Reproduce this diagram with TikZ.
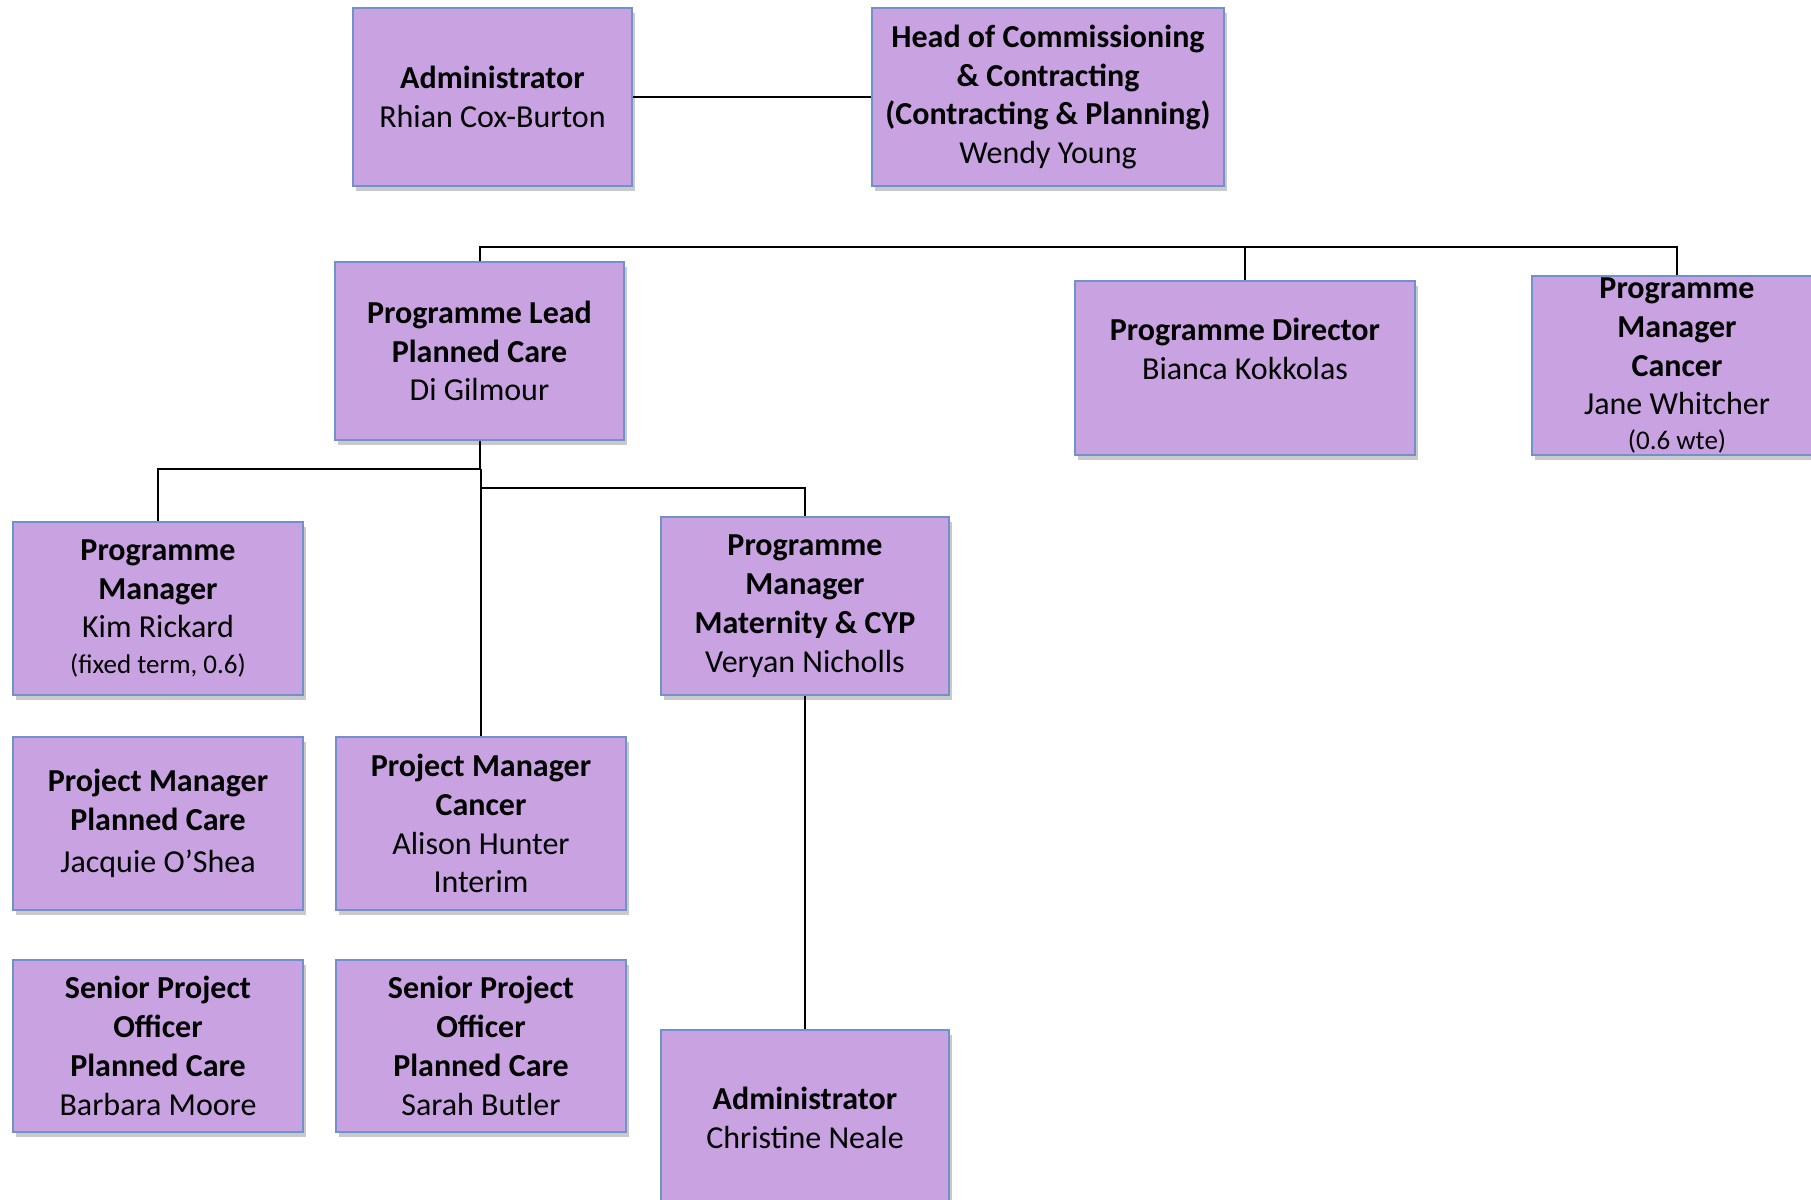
\documentclass[tikz,border=0pt]{standalone}
\usepackage{fontspec}
\setmainfont{Carlito}
\usetikzlibrary{shadows}

\definecolor{postfill}{RGB}{201,162,226}
\definecolor{postline}{RGB}{112,146,204}

\tikzset{
  post/.style={draw=postline, line width=1pt, fill=postfill, minimum width=145pt, minimum height=87pt,
    inner sep=0pt, align=center,
    drop shadow={shadow xshift=1.5pt, shadow yshift=-2.5pt, opacity=.3, fill=black!70}},
  link/.style={line width=1pt, black}
}

\begin{document}
\begin{tikzpicture}[x=0.5pt, y=-0.5pt, every node/.style={font=\fontsize{16}{19.4}\selectfont}]
    \useasboundingbox (0,0) rectangle (1811,1200);
    \clip (0,0) rectangle (1811,1200);

    % Linha de topo
    \node[post, minimum width=139.5pt, minimum height=89pt] (adm) at (492.5,97) {\textbf{Administrator}\\Rhian Cox-Burton};
    \node[post, minimum width=176pt, minimum height=89pt] (head) at (1048,97) {\textbf{Head of Commissioning}\\\textbf{\& Contracting}\\\textbf{(Contracting \& Planning)}\\Wendy Young};

    % Segundo nivel
    \node[post, minimum width=144.5pt, minimum height=89pt] (lead) at (479.5,351) {\textbf{Programme Lead}\\\textbf{Planned Care}\\Di Gilmour};
    \node[post, minimum width=170pt, minimum height=87pt] (dir) at (1245,368) {\textbf{Programme Director}\\Bianca Kokkolas\\~};
    \node[post, minimum height=89.5pt] (pmc) at (1677,365.5) {\textbf{Programme}\\\textbf{Manager}\\\textbf{Cancer}\\Jane Whitcher\\[-2pt]{\fontsize{13.5}{14}\selectfont (0.6 wte)}};

    % Terceiro nivel
    \node[post, minimum height=86.5pt] (pmk) at (158,608.5) {\textbf{Programme}\\\textbf{Manager}\\Kim Rickard\\[-1.5pt]{\fontsize{13.5}{14}\selectfont (fixed term, 0.6)}};
    \node[post, minimum width=144pt, minimum height=89pt] (pmm) at (805,606) {\textbf{Programme}\\\textbf{Manager}\\\textbf{Maternity \& CYP}\\Veryan Nicholls};
    \node[post, minimum height=86.5pt] (pjp) at (158,823.5) {\textbf{Project Manager}\\\textbf{Planned Care}\\[2pt]Jacquie O’Shea};
    \node[post, minimum height=86.5pt] (pjc) at (481,823.5) {\textbf{Project Manager}\\\textbf{Cancer}\\Alison Hunter\\Interim};
    \node[post, minimum height=86pt] (spa) at (158,1046) {\textbf{Senior Project}\\\textbf{Officer}\\\textbf{Planned Care}\\Barbara Moore};
    \node[post, minimum height=86pt] (spb) at (481,1046) {\textbf{Senior Project}\\\textbf{Officer}\\\textbf{Planned Care}\\Sarah Butler};
    \node[post, minimum width=144pt, minimum height=88pt] (adm2) at (805,1118) {\textbf{Administrator}\\Christine Neale};

    % Pontos de juncao
    \coordinate (bus) at (0,247);
    \coordinate (lj) at (0,469);
    \coordinate (rj) at (0,488);

    % Ligacoes
    \draw[link] (adm) -- (head);
    \draw[link] (lead.north) -- (lead.north |- bus) -- (pmc.north |- bus) -- (pmc.north);
    \draw[link] (dir.north |- bus) -- (dir.north);
    \draw[link] (lead.south) -- (lead.south |- lj) -| (pmk.north);
    \draw[link] (pjc.north |- lj) -- (pjc.north);
    \draw[link] (pjc.north |- rj) -| (pmm.north);
    \draw[link] (pmm.south) -- (adm2.north);
\end{tikzpicture}
\end{document}
